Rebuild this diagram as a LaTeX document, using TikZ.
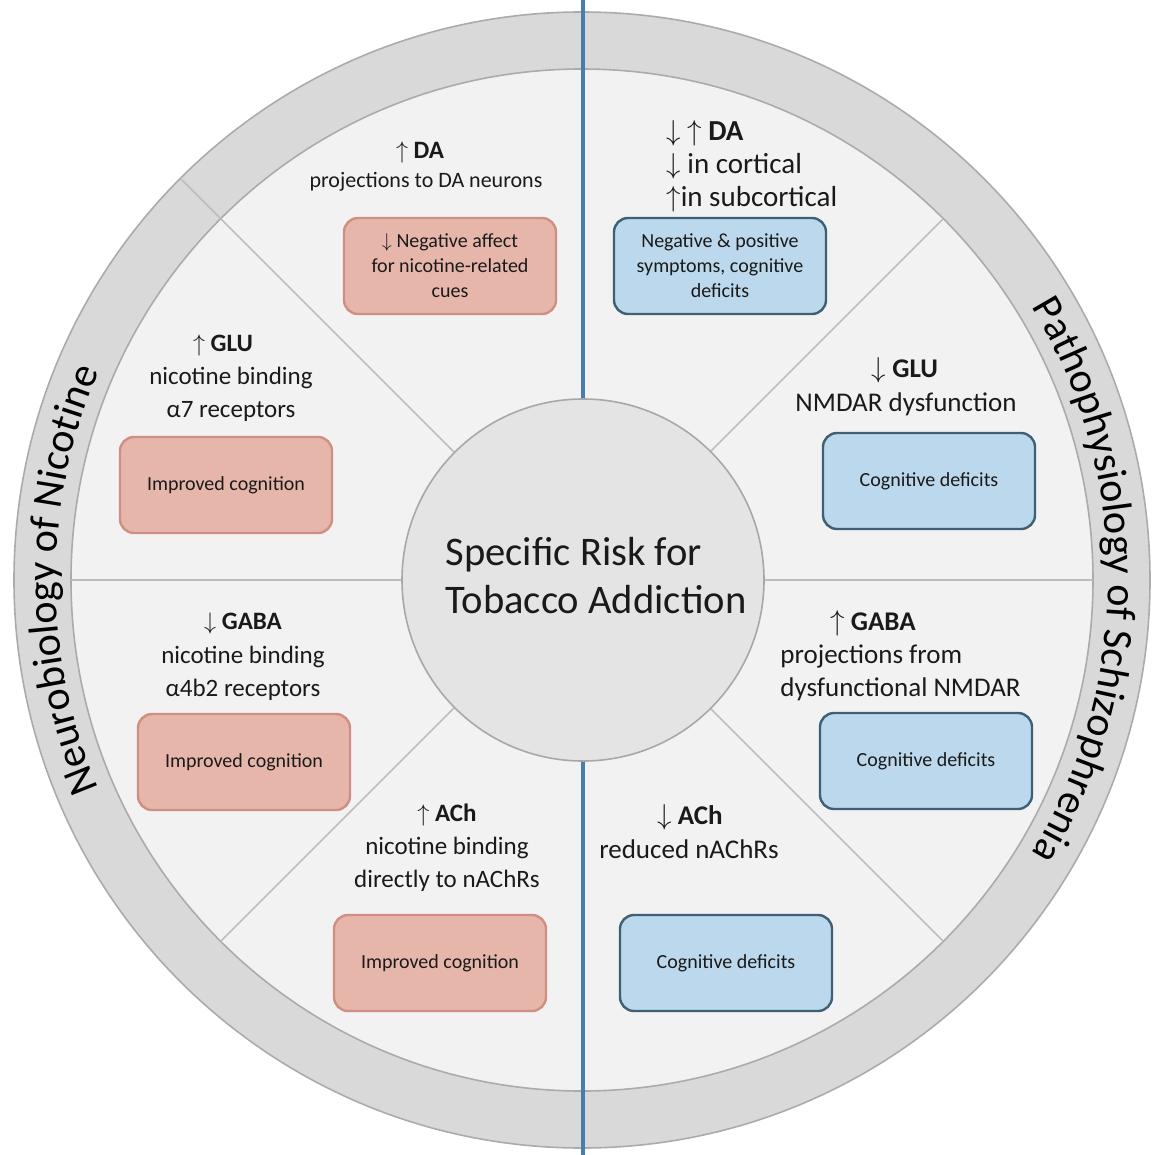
\documentclass[tikz,border=0pt]{standalone}
\usepackage{fontspec}
\setmainfont{Carlito}
\usetikzlibrary{decorations.text,calc}
\definecolor{ringfill}{HTML}{D9D9D9}
\definecolor{ringedge}{HTML}{ABABAB}
\definecolor{disk}{HTML}{F2F2F2}
\definecolor{hubfill}{HTML}{E4E4E4}
\definecolor{hubedge}{HTML}{A8A8A8}
\definecolor{divider}{HTML}{BDBDBD}
\definecolor{pinkfill}{HTML}{E7B6AA}
\definecolor{pinkedge}{HTML}{CF8F84}
\definecolor{bluefill}{HTML}{BBD8EC}
\definecolor{blueedge}{HTML}{3F5F75}
\definecolor{axis}{HTML}{4A7DA8}
\definecolor{txt}{HTML}{1A1A1A}
\newcommand\ringfont{\fontsize{21}{25}\selectfont}
\begin{document}
\begin{tikzpicture}[x=0.5pt,y=-0.5pt,
  divline/.style={draw=divider, line width=0.8pt},
  headL/.style={font=\fontsize{12.5}{16.5}\selectfont, align=center, text=txt, inner sep=0pt},
  headR/.style={font=\fontsize{13.5}{16.5}\selectfont, align=center, text=txt, inner sep=0pt},
  boxbase/.style={rounded corners=7pt, line width=1.2pt, minimum width=106pt, minimum height=48pt,
     align=center, text=txt, font=\fontsize{10}{12.5}\selectfont},
  boxp/.style={boxbase, fill=pinkfill, draw=pinkedge},
  boxb/.style={boxbase, fill=bluefill, draw=blueedge}]
\useasboundingbox (0,0) rectangle (1151,1155);
\coordinate (C) at (582,580);
% ring and disk
\filldraw[fill=ringfill, draw=ringedge, line width=0.8pt] (C) circle[radius=568];
\filldraw[fill=disk, draw=ringedge, line width=0.8pt] (C) circle[radius=511];
% dividers
\foreach \a in {0,45,135,180,225,315}
  \draw[divline] ($(C)+(\a:181)$) -- ($(C)+(\a:511)$);
\draw[divline] ($(C)+(225:511)$) -- ($(C)+(225:568)$);
% blue axis
\coordinate (atop) at (583,0);
\coordinate (abot) at (583,1155);
\draw[axis, line width=2pt] (atop) -- (abot);
% hub
\node[circle, minimum size=181pt, fill=hubfill, draw=hubedge, line width=0.8pt] (hub) at (583,580) {};
\node[font=\fontsize{20.3}{24}\selectfont, align=left, text=txt] (hubtext) at (596,576) {Specific Risk for\\Tobacco Addiction};
% ring texts
\path[decorate, decoration={text along path, text={|\ringfont|Neurobiology of Nicotine}, text align=center}]
  ($(C)+(140:526)$) arc[start angle=140, end angle=220, radius=526];
\path[decorate, decoration={text along path, text={|\ringfont|Pathophysiology of Schizophrenia}, text align=center}]
  ($(C)+(-45:526)$) arc[start angle=-45, end angle=45, radius=526];
% left half
\node[headL] (daLh) at (420,153) {$\uparrow$ \textbf{DA}};
\node[headL, font=\fontsize{11}{14}\selectfont] (daLt) at (426,182) {projections to DA neurons};
\node[boxp] (daLb) at (450,266) {$\downarrow$ Negative affect\\for nicotine-related\\cues};
\node[headL] (gluLh) at (223,345) {$\uparrow$ \textbf{GLU}};
\node[headL] (gluLt) at (231,394) {nicotine binding\\α7 receptors};
\node[boxp] (gluLb) at (226,485) {Improved cognition};
\node[headL] (gabaLh) at (243,623) {$\downarrow$ \textbf{GABA}};
\node[headL] (gabaLt) at (243,673) {nicotine binding\\α4b2 receptors};
\node[boxp] (gabaLb) at (244,762) {Improved cognition};
\node[headL] (achLh) at (447,815) {$\uparrow$ \textbf{ACh}};
\node[headL] (achLt) at (447,864) {nicotine binding\\directly to nAChRs};
\node[boxp] (achLb) at (440,963) {Improved cognition};
% right half
\node[headR, font=\fontsize{14.5}{16.5}\selectfont, align=left, anchor=west] (daR) at (666,166)
  {$\downarrow$ $\uparrow$ \textbf{DA}\\$\downarrow$ in cortical\\$\uparrow$in subcortical};
\node[boxb] (daRb) at (720,266) {Negative \& positive\\symptoms, cognitive\\deficits};
\node[headR] (gluRh) at (905,370) {$\downarrow$ \textbf{GLU}};
\node[headR] (gluRt) at (906,404) {NMDAR dysfunction};
\node[boxb] (gluRb) at (929,481) {Cognitive deficits};
\node[headR] (gabaRh) at (873,623) {$\uparrow$ \textbf{GABA}};
\node[headR, align=left, anchor=west] (gabaRt) at (780,673) {projections from\\dysfunctional NMDAR};
\node[boxb] (gabaRb) at (926,761) {Cognitive deficits};
\node[headR] (achRh) at (690,817) {$\downarrow$ \textbf{ACh}};
\node[headR] (achRt) at (689,849) {reduced nAChRs};
\node[boxb] (achRb) at (726,963) {Cognitive deficits};
\end{tikzpicture}
\end{document}
